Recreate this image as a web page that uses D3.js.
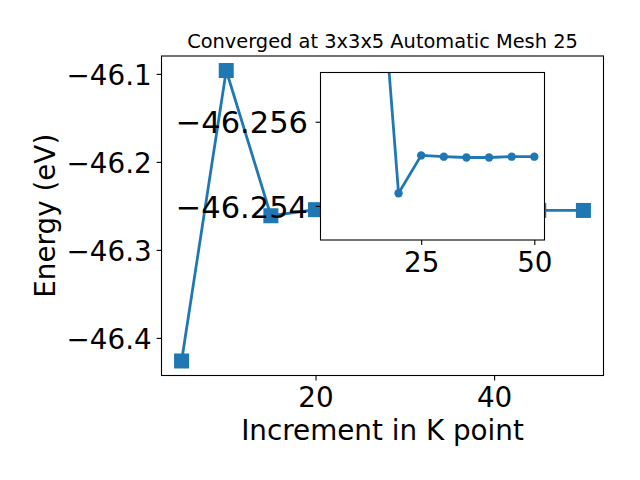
<!DOCTYPE html>
<html><head><meta charset="utf-8">
<script src="https://cdn.jsdelivr.net/npm/d3@7/dist/d3.min.js"></script>
<style>body{margin:0;background:#fff}svg{display:block}text{font-family:"DejaVu Sans",sans-serif;fill:#000}</style>
</head><body><svg id="c" width="640" height="480"></svg>
<script>
const kpoints = [5,10,15,20,25,30,35,40,45,50];
const energy = [-46.4262,-46.0962,-46.2612,-46.2543,-46.2552,-46.25517,-46.25515,-46.25515,-46.25517,-46.25517];
const mainXTicks = [20,40];
const mainYTicks = [-46.1,-46.2,-46.3,-46.4];
const insetXTicks = [25,50];
const insetYTicks = [-46.256,-46.254];
const insetYLimits = [-46.25717,-46.25319]; // top, bottom (inverted axis)
const insetStart = 15; // inset shows the series from this k point on
const title = "Converged at 3x3x5 Automatic Mesh 25";
const xLabel = "Increment in K point";
const yLabel = "Energy (eV)";

const color = "#1f77b4";
const svg = d3.select("#c");
const M = {l:161.5, r:603.5, t:56, b:375.5};
const I = {l:320.5, r:544.5, t:72.5, b:240};
const TL = 4.9, PAD = 4.9, FS = 27.8, FSI = 30.5;

function margin(ext){const d=ext[1]-ext[0];return [ext[0]-0.05*d, ext[1]+0.05*d];}
const xd = margin(d3.extent(kpoints));
const yd = margin(d3.extent(energy));
const x = d3.scaleLinear().domain(xd).range([M.l,M.r]);
const y = d3.scaleLinear().domain(yd).range([M.b,M.t]);

const pts = kpoints.map((k,i)=>[k,energy[i]]);
const line = d3.line().x(d=>x(d[0])).y(d=>y(d[1]));

// main
const g = svg.append("g");
g.append("path").attr("d",line(pts)).attr("fill","none").attr("stroke",color).attr("stroke-width",2.78).attr("stroke-linejoin","round");
g.selectAll("rect.m").data(pts).enter().append("rect").attr("class","m")
 .attr("x",d=>x(d[0])-7.5).attr("y",d=>y(d[1])-7.5).attr("width",15).attr("height",15).attr("fill",color);
g.append("rect").attr("x",M.l).attr("y",M.t).attr("width",M.r-M.l).attr("height",M.b-M.t).attr("fill","none").attr("stroke","#000").attr("stroke-width",1.1);

const xAxis = d3.axisBottom(x).tickValues(mainXTicks).tickSize(TL).tickPadding(PAD).tickFormat(d3.format("d"));
const gx = g.append("g").attr("transform",`translate(0,${M.b})`).call(xAxis);
const yAxis = d3.axisLeft(y).tickValues(mainYTicks).tickSize(TL).tickPadding(PAD).tickFormat(d=>d3.format(".1f")(d).replace("-","\u2212"));
const gy = g.append("g").attr("transform",`translate(${M.l},0)`).call(yAxis);
[gx,gy].forEach(a=>{a.select(".domain").remove();a.selectAll("line").attr("stroke","#000").attr("stroke-width",1.1);
 a.selectAll("text").attr("font-family","DejaVu Sans").attr("font-size",FS).attr("fill","#000");});
gx.selectAll("text").attr("dy",null).attr("y",31.5);
gy.selectAll("text").attr("dy",null).attr("y",FS*0.3645);

svg.append("text").attr("x",(M.l+M.r)/2).attr("y",48).attr("text-anchor","middle").attr("font-size",19.4).text(title);
svg.append("text").attr("x",(M.l+M.r)/2).attr("y",440).attr("text-anchor","middle").attr("font-size",FS).text(xLabel);
svg.append("text").attr("transform",`translate(55,${(M.t+M.b)/2}) rotate(-90)`).attr("text-anchor","middle").attr("font-size",FS).text(yLabel);

// inset
const ipts = pts.filter(d=>d[0]>=insetStart);
const xi = d3.scaleLinear().domain(xd).range([I.l,I.r]);
const yi = d3.scaleLinear().domain(insetYLimits).range([I.t,I.b]);
const gi = svg.append("g");
svg.append("defs").append("clipPath").attr("id","ic").append("rect").attr("x",I.l).attr("y",I.t).attr("width",I.r-I.l).attr("height",I.b-I.t);
gi.append("rect").attr("x",I.l).attr("y",I.t).attr("width",I.r-I.l).attr("height",I.b-I.t).attr("fill","#fff");
const gc = gi.append("g").attr("clip-path","url(#ic)");
const linei = d3.line().x(d=>xi(d[0])).y(d=>yi(d[1]));
gc.append("path").attr("d",linei(ipts)).attr("fill","none").attr("stroke",color).attr("stroke-width",2.78).attr("stroke-linejoin","round");
gc.selectAll("circle").data(ipts).enter().append("circle").attr("cx",d=>xi(d[0])).attr("cy",d=>yi(d[1])).attr("r",4.2).attr("fill",color);
gi.append("rect").attr("x",I.l).attr("y",I.t).attr("width",I.r-I.l).attr("height",I.b-I.t).attr("fill","none").attr("stroke","#000").attr("stroke-width",1.1);
const gxi = gi.append("g").attr("transform",`translate(0,${I.b})`).call(d3.axisBottom(xi).tickValues(insetXTicks).tickSize(TL).tickPadding(PAD).tickFormat(d3.format("d")));
const gyi = gi.append("g").attr("transform",`translate(${I.l},0)`).call(d3.axisLeft(yi).tickValues(insetYTicks).tickSize(TL).tickPadding(7.6).tickFormat(d=>d3.format(".3f")(d).replace("-","\u2212")));
[gxi,gyi].forEach(a=>{a.select(".domain").remove();a.selectAll("line").attr("stroke","#000").attr("stroke-width",1.1);
 a.selectAll("text").attr("font-family","DejaVu Sans").attr("fill","#000");});
gxi.selectAll("text").attr("font-size",FS).attr("dy",null).attr("y",31.5);
gyi.selectAll("text").attr("font-size",FSI).attr("dy",null).attr("y",FSI*0.3645);
</script></body></html>
